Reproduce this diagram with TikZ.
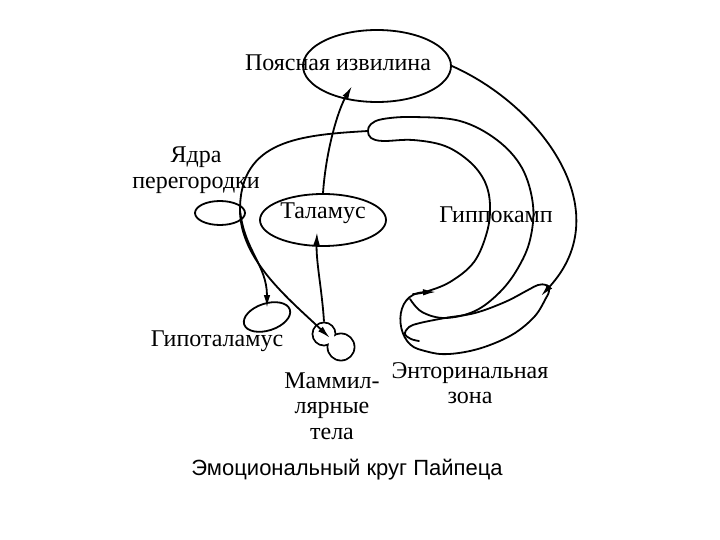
\documentclass[tikz,border=0pt]{standalone}
\usepackage{fontspec}
\setmainfont{Liberation Serif}
\newfontfamily\capfont{Liberation Sans}
\usetikzlibrary{shapes.geometric, arrows.meta}

\begin{document}
\begin{tikzpicture}[
			x=1pt, y=-1pt,
			brainpart/.style={ellipse, draw=black, line width=1.8pt, inner sep=0pt},
			bodypart/.style={circle, draw=black, fill=white, line width=1.8pt, inner sep=0pt},
			parttext/.style={font=\fontsize{24}{25.5}\selectfont, align=center, inner sep=0pt},
			tract/.style={line width=1.8pt, line cap=round, line join=round},
			arrow/.style={-{Latex[length=13pt,width=6.5pt]}, line width=1.8pt}
		]
		\useasboundingbox (0,0) rectangle (720,540);

		\node[brainpart, minimum width=148pt, minimum height=72pt] (cingulate) at (377,66) {};
		\node[parttext] (cingulateText) at (338,63) {Поясная извилина};
		\node[brainpart, minimum width=126pt, minimum height=52pt] (thalamus) at (323,220) {};
		\node[parttext] (thalamusText) at (323,213) {Таламус};
		\node[brainpart, minimum width=50pt, minimum height=24pt] (septum) at (220,213) {};
		\node[parttext] (septumText) at (196,170) {Ядра\\перегородки};
		\node[brainpart, minimum width=48pt, minimum height=27pt, rotate=18] (hypo) at (267,317) {};
		\node[parttext] (hypoText) at (217,341) {Гипоталамус};
		\node[bodypart, minimum size=23pt] (mamA) at (324,334) {};
		\node[bodypart, minimum size=27pt] (mamB) at (341,347) {};
		\fill[white] (mamA.center) circle (10.4pt) (mamB.center) circle (12.4pt);
		\node[parttext] (mamText) at (332,406) {Маммил-\\лярные\\тела};
		\node[parttext] (hippoText) at (496,215) {Гиппокамп};
		\node[parttext] (entoText) at (470,383) {Энторинальная\\зона};
		\node[font=\capfont\fontsize{22}{24}\selectfont] (caption) at (347,470) {Эмоциональный круг Пайпеца};

		\coordinate (hippoTip) at (368,131);
		\coordinate (hippoIn) at (436,292);
		\coordinate (entoLeft) at (418,349);
		\coordinate (entoIn) at (541,296);
		\coordinate (cingIn) at (352,86);
		\coordinate (thalIn) at (317,232);
		\coordinate (fornixMid) at (240,210);
		\coordinate (hypoIn) at (267,308);
		\coordinate (mamIn) at (330,338);

		\draw[tract] plot[smooth, tension=0.6] coordinates {(410,299) (422,312) (445,318) (475,311) (500,292) (518,268) (530,240) (533,205) (522,168) (497,140) (460,121) (413,117) (383,119) (371,124) (hippoTip) (371,138) (383,141) (413,140) (445,146) (470,162) (485,182) (490,205) (487,232) (474,262) (450,282) (425,292) (413,294)};
		\draw[tract] plot[smooth, tension=0.6] coordinates {(419,341) (411,339) (405,334) (409,327) (420,323) (445,318) (475,313) (505,302) (528,290) (538,285) (546,285) (549,291) (546,298) (535,316) (515,333) (490,345) (465,352) (440,354) (entoLeft)};

		\draw[arrow] (entoLeft) .. controls (395,342) and (392,293) .. (hippoIn);
		\draw[arrow] (cingulate.east) .. controls (540,105) and (620,210) .. (entoIn);
		\draw[arrow] (thalamus.north) .. controls (326,150) and (338,110) .. (cingIn);
		\draw[arrow] (mamA.north) .. controls (322,290) and (316,262) .. (thalIn);
		\draw[arrow] (hippoTip) .. controls (300,135) and (240,140) .. (fornixMid) .. controls (240,260) and (290,300) .. (mamIn);
		\draw[arrow] (fornixMid) .. controls (244,250) and (267,265) .. (hypoIn);

	\end{tikzpicture}
\end{document}
